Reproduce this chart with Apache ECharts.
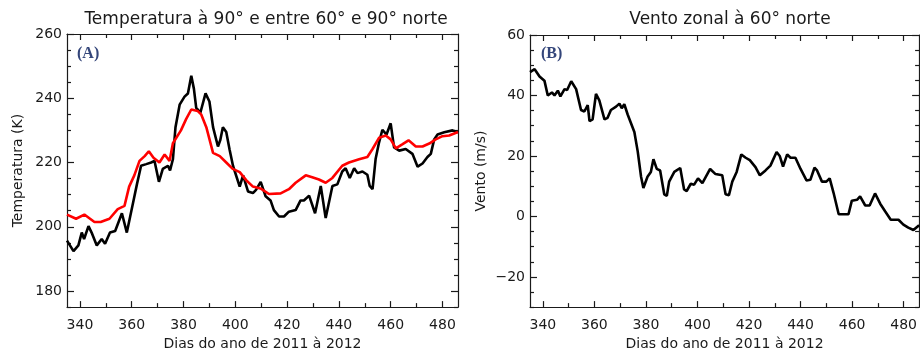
<!DOCTYPE html>
<html>
<head>
<meta charset="utf-8">
<script src="https://cdn.jsdelivr.net/npm/echarts@6/dist/echarts.min.js"></script>
<style>
  html, body { margin: 0; padding: 0; background: #fff; }
  #chart { width: 920px; height: 356px; }
</style>
</head>
<body>
<div id="chart"></div>
<script>
// Temperature at 90°N (black) and 60–90°N mean (red), days of 2011/2012
const tempDays90 = [335, 337.5, 339.4, 340.7, 341.6, 343.3, 344.5, 346.5, 348.4, 349.7, 351.6, 353.6, 356.2, 358.1, 359.4, 360.7, 362, 363.6, 365.6, 367.5, 368.8, 370.5, 372, 374, 374.8, 375.9, 376.9, 378.5, 380.4, 381.7, 383, 384, 384.9, 386.5, 388.5, 390, 391.4, 393.3, 394.2, 395.2, 396.5, 397.8, 399.1, 401.7, 403, 404.9, 406.8, 408, 409.8, 411.7, 412.3, 413.6, 414.9, 416.9, 418.8, 420.7, 423.3, 425.2, 426.5, 428.5, 430.8, 433, 434.9, 437.5, 439.4, 441.3, 442.6, 444.2, 445.9, 447.2, 449.1, 451, 451.9, 453, 454.2, 455.5, 456.8, 458.4, 460, 461.3, 463.3, 465.8, 468.4, 470.4, 472.3, 474.2, 475.5, 476.8, 478.1, 480.7, 483.9, 486];
const temp90 = [195.7, 192.4, 194.2, 198.2, 196.2, 200.2, 198.2, 194.2, 196.2, 194.7, 198.2, 198.7, 204.2, 198.2, 203.2, 208.2, 213.2, 219, 219.5, 220, 220.5, 214, 218, 219, 217.5, 221, 231, 238, 240.5, 241.5, 247, 243, 237, 235.5, 241.5, 239, 231, 225, 227, 231, 229.5, 224, 219, 212.5, 216, 211, 210.5, 211.5, 214, 209.5, 209.2, 208.2, 205.2, 203.2, 203.2, 204.7, 205.2, 208.2, 208.2, 209.7, 204.2, 212.7, 202.7, 212.7, 213.2, 217.2, 218.2, 215.2, 218.2, 216.7, 217.2, 216.2, 212.7, 211.7, 221.2, 226.2, 230.2, 228.7, 232.2, 224.7, 223.7, 224.2, 222.7, 218.7, 219.7, 221.7, 222.7, 227.2, 228.7, 229.4, 230, 229.4];

const tempDaysMean = [335, 338.5, 341.7, 345.6, 348, 351.4, 354.6, 357.2, 359, 361, 363, 365, 366.6, 368.4, 370.7, 372.7, 374.6, 375.9, 379, 381, 383, 385.5, 386.8, 388.8, 391.4, 394, 396.5, 399, 401.7, 404.2, 406.8, 410, 413, 417.5, 420.7, 423.3, 427.2, 429.7, 432.3, 434.9, 437.5, 441.3, 443.9, 447.8, 451, 453, 455.5, 458.1, 460, 462, 464.6, 466.9, 469.7, 472.3, 474.9, 477.4, 480, 482.6, 486];
const tempMean = [203.8, 202.5, 203.8, 201.5, 201.5, 202.5, 205.5, 206.5, 212.5, 216, 220.5, 222, 223.5, 221.5, 220, 222.5, 220.5, 226, 230, 233.5, 236.5, 236, 235, 231, 223, 222, 220, 218, 217, 214.5, 212.5, 211.8, 210.2, 210.4, 211.7, 213.7, 216, 215.4, 214.7, 213.7, 215.2, 219, 220, 221, 221.7, 224.2, 227.7, 228.4, 227.2, 224.4, 225.7, 226.9, 225, 225, 225.9, 227.2, 228.2, 228.4, 229.5];

// Zonal wind at 60°N
const windDays = [335, 336.8, 338.7, 340.6, 341.9, 343.5, 344.5, 345.8, 346.8, 348.4, 349.4, 351, 352.9, 354.8, 356.1, 357.4, 358.1, 359.3, 360.6, 361.9, 363.9, 365.1, 366.4, 368.4, 369.7, 370.6, 371.6, 372.9, 375.5, 376.8, 378.1, 379, 380.6, 381.9, 382.9, 384.2, 385.5, 387.1, 388.1, 389, 391, 393.3, 394.8, 395.8, 397.4, 398.7, 400.2, 401.9, 404.9, 407, 409.6, 410.9, 412.2, 413.5, 415.2, 417, 418.7, 420.3, 422.5, 424.2, 426.4, 428.3, 430.7, 431.9, 433.2, 434.8, 436.1, 438, 440, 442.3, 443.8, 445.4, 446.4, 448.3, 450, 451.3, 452.8, 454.8, 456.7, 458.6, 459.9, 461.9, 463.1, 465.1, 466.8, 468.9, 470.9, 472.8, 475, 478, 479.9, 481.8, 483.8, 486];
const wind = [47.7, 48.7, 46.3, 44.9, 40, 41, 40, 41.6, 39.7, 42.1, 41.8, 44.7, 42.1, 35.2, 34.7, 36.8, 31.5, 32.1, 40.5, 38.4, 32.1, 32.6, 35.2, 36.3, 37.3, 35.8, 37.1, 33.7, 27.9, 21.5, 13.1, 9.4, 13.1, 14.7, 18.9, 15.7, 15.2, 7.3, 6.8, 11.5, 14.7, 16, 8.9, 8.4, 10.8, 10.5, 12.6, 11, 15.7, 14, 13.6, 7.3, 7, 11.5, 14.7, 20.5, 19.4, 18.6, 16.3, 13.6, 15.2, 16.8, 21.3, 20, 16.5, 20.5, 19.4, 19.4, 15.7, 11.9, 12.1, 16.1, 15.2, 11.5, 11.5, 12.6, 7.8, 0.7, 0.7, 0.7, 5.2, 5.5, 6.6, 3.6, 3.6, 7.6, 4.2, 1.7, -1.1, -1.1, -2.7, -3.7, -4.5, -2.9];

// Tick labels
const dayTicks = [340, 360, 380, 400, 420, 440, 460, 480];
const dayMinorTicks = [350, 370, 390, 410, 430, 450, 470];
const tempTicks = [180, 200, 220, 240, 260];
const windTicks = [-20, 0, 20, 40, 60];

const dayRange = [335, 486];
const tempRange = [175, 260];
const windRange = [-30, 60];

function minorsBetween(lo, hi, step, majors) {
  const out = [];
  for (let v = lo; v <= hi; v += step) if (!majors.includes(v)) out.push(v);
  return out;
}

const FONT = 'DejaVu Sans';
const INK = '#1a1a1a';

function pair(xs, ys) { return xs.map((x, i) => [x, ys[i]]); }
const fmtTick = v => String(v).replace('-', '\u2212');

// Builds a boxed frame: labelled bottom/left axes, plus inward ticks on all four sides
function frameAxes(gridIndex, xr, yr, xMajor, xMinor, yMajor, yMinor, xName, yName) {
  const xAxes = [], yAxes = [];
  const base = { gridIndex, type: 'value', splitLine: { show: false } };
  const line = { show: true, onZero: false, lineStyle: { color: INK, width: 1.2 } };
  ['bottom', 'top'].forEach((pos, k) => {
    xAxes.push(Object.assign({}, base, {
      position: pos, min: xr[0], max: xr[1],
      axisLine: line,
      axisTick: { show: true, inside: true, length: 6, customValues: xMajor, lineStyle: { color: INK, width: 1.2 } },
      axisLabel: k === 0 ? { show: true, customValues: xMajor, margin: 11, color: INK, fontFamily: FONT, fontSize: 14, formatter: fmtTick } : { show: false },
      name: k === 0 ? xName : '', nameLocation: 'middle', nameGap: 25,
      nameTextStyle: { color: INK, fontFamily: FONT, fontSize: 14 }
    }));
    xAxes.push(Object.assign({}, base, {
      position: pos, min: xr[0], max: xr[1],
      axisLine: { show: false, onZero: false },
      axisTick: { show: true, inside: true, length: 4, customValues: xMinor, lineStyle: { color: INK, width: 1.2 } },
      axisLabel: { show: false }
    }));
  });
  ['left', 'right'].forEach((pos, k) => {
    yAxes.push(Object.assign({}, base, {
      position: pos, min: yr[0], max: yr[1],
      axisLine: line,
      axisTick: { show: true, inside: true, length: 7, customValues: yMajor, lineStyle: { color: INK, width: 1.2 } },
      axisLabel: k === 0 ? { show: true, customValues: yMajor, margin: 5, color: INK, fontFamily: FONT, fontSize: 14, formatter: fmtTick } : { show: false },
      name: k === 0 ? yName : '', nameLocation: 'middle', nameGap: 42, nameRotate: 90,
      nameTextStyle: { color: INK, fontFamily: FONT, fontSize: 14 }
    }));
    yAxes.push(Object.assign({}, base, {
      position: pos, min: yr[0], max: yr[1],
      axisLine: { show: false, onZero: false },
      axisTick: { show: true, inside: true, length: 4, customValues: yMinor, lineStyle: { color: INK, width: 1.2 } },
      axisLabel: { show: false }
    }));
  });
  return { xAxes, yAxes };
}

const left = frameAxes(0, dayRange, tempRange, dayTicks, dayMinorTicks,
  tempTicks, minorsBetween(tempRange[0], tempRange[1], 5, tempTicks),
  'Dias do ano de 2011 à 2012', 'Temperatura (K)');
const right = frameAxes(1, dayRange, windRange, dayTicks, dayMinorTicks,
  windTicks, minorsBetween(windRange[0], windRange[1], 5, windTicks),
  'Dias do ano de 2011 à 2012', 'Vento (m/s)');

const chart = echarts.init(document.getElementById('chart'), null, { renderer: 'canvas' });

const lineSeries = (data, color, xi, yi, z) => ({
  type: 'line', data, xAxisIndex: xi, yAxisIndex: yi, showSymbol: false, symbol: 'none',
  lineStyle: { color, width: 2.6 }, z, animation: false
});

chart.setOption({
  animation: false,
  backgroundColor: '#fff',
  title: [
    { text: 'Temperatura à 90° e entre 60° e 90° norte', left: 261, top: 6, textAlign: 'center',
      textStyle: { fontFamily: FONT, fontWeight: 'normal', fontSize: 17, color: INK } },
    { text: 'Vento zonal à 60° norte', left: 725, top: 6, textAlign: 'center',
      textStyle: { fontFamily: FONT, fontWeight: 'normal', fontSize: 17, color: INK } }
  ],
  grid: [
    { left: 67, top: 34, width: 391, height: 283 },
    { left: 530, top: 35, width: 391, height: 284 }
  ],
  xAxis: left.xAxes.concat(right.xAxes),
  yAxis: left.yAxes.concat(right.yAxes),
  graphic: [
    { type: 'text', left: 77, top: 46, style: { text: '(A)', fontFamily: 'Liberation Serif', fontWeight: 'bold', fontSize: 16, fill: '#34467a' } },
    { type: 'text', left: 541, top: 46, style: { text: '(B)', fontFamily: 'Liberation Serif', fontWeight: 'bold', fontSize: 16, fill: '#34467a' } }
  ],
  series: [
    lineSeries(pair(tempDays90, temp90), '#000000', 0, 0, 3),
    lineSeries(pair(tempDaysMean, tempMean), '#ff0000', 0, 0, 4),
    lineSeries(pair(windDays, wind), '#000000', 4, 4, 3)
  ]
});
</script>
</body>
</html>
